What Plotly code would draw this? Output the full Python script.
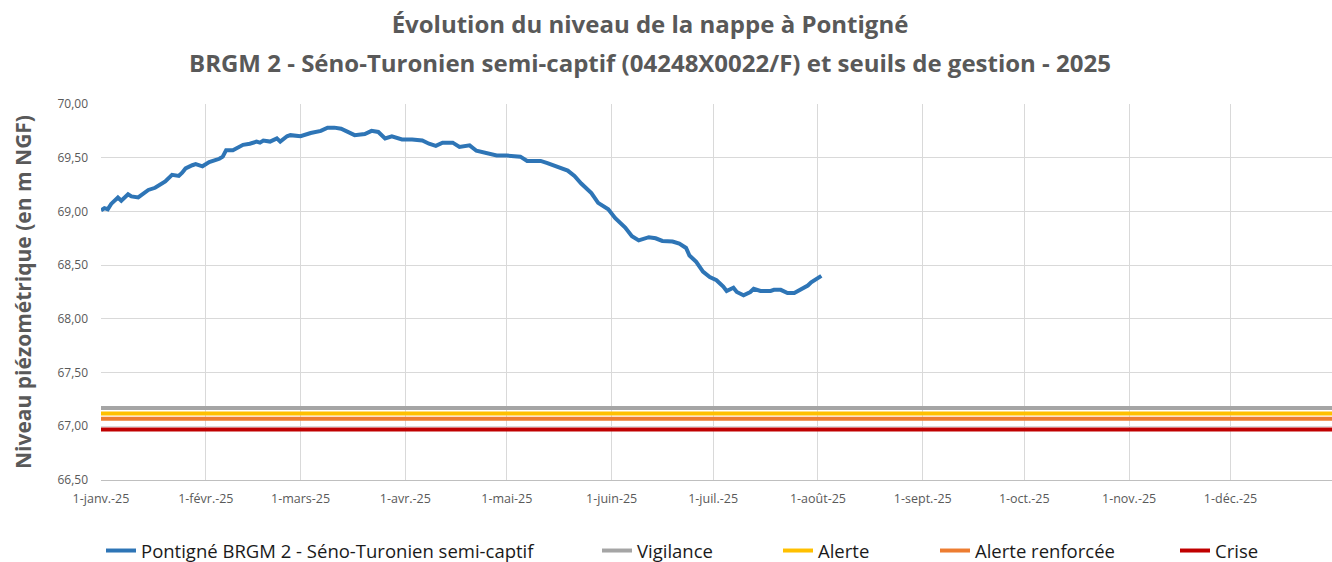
import plotly.graph_objects as go

# ---- data ----
dates = [
    "2025-01-01", "2025-01-02", "2025-01-03", "2025-01-04", "2025-01-06", "2025-01-07",
    "2025-01-09", "2025-01-10", "2025-01-12", "2025-01-14", "2025-01-15", "2025-01-17",
    "2025-01-19", "2025-01-20", "2025-01-22", "2025-01-24", "2025-01-25", "2025-01-26",
    "2025-01-28", "2025-01-29", "2025-01-31", "2025-02-02", "2025-02-04", "2025-02-05",
    "2025-02-06", "2025-02-07", "2025-02-09", "2025-02-11", "2025-02-12", "2025-02-14",
    "2025-02-16", "2025-02-17", "2025-02-18", "2025-02-20", "2025-02-22", "2025-02-23",
    "2025-02-25", "2025-02-26", "2025-03-01", "2025-03-04", "2025-03-07", "2025-03-09",
    "2025-03-11", "2025-03-13", "2025-03-15", "2025-03-17", "2025-03-20", "2025-03-22",
    "2025-03-24", "2025-03-26", "2025-03-28", "2025-03-31", "2025-04-03", "2025-04-06",
    "2025-04-08", "2025-04-10", "2025-04-12", "2025-04-15", "2025-04-17", "2025-04-20",
    "2025-04-22", "2025-04-25", "2025-04-28", "2025-05-01", "2025-05-05", "2025-05-07",
    "2025-05-11", "2025-05-13", "2025-05-16", "2025-05-19", "2025-05-21", "2025-05-23",
    "2025-05-26", "2025-05-28", "2025-05-31", "2025-06-02", "2025-06-05", "2025-06-07",
    "2025-06-09", "2025-06-12", "2025-06-14", "2025-06-16", "2025-06-19", "2025-06-21",
    "2025-06-23", "2025-06-24", "2025-06-26", "2025-06-28", "2025-06-30", "2025-07-02",
    "2025-07-04", "2025-07-05", "2025-07-07", "2025-07-08", "2025-07-10", "2025-07-12",
    "2025-07-13", "2025-07-15", "2025-07-18", "2025-07-19", "2025-07-21", "2025-07-23",
    "2025-07-25", "2025-07-27", "2025-07-29", "2025-07-30", "2025-08-01", "2025-08-02",
]
niveau = [
    69.01, 69.03, 69.02, 69.07, 69.13, 69.10,
    69.16, 69.14, 69.13, 69.17, 69.20, 69.22,
    69.26, 69.28, 69.34, 69.33, 69.36, 69.40,
    69.43, 69.44, 69.42, 69.46, 69.48, 69.49,
    69.51, 69.57, 69.57, 69.60, 69.62, 69.63,
    69.65, 69.64, 69.66, 69.65, 69.68, 69.65,
    69.70, 69.71, 69.70, 69.73, 69.75, 69.78,
    69.78, 69.77, 69.74, 69.71, 69.72, 69.75,
    69.74, 69.68, 69.70, 69.67, 69.67, 69.66,
    69.63, 69.61, 69.64, 69.64, 69.60, 69.615,
    69.565, 69.54, 69.52, 69.52, 69.51, 69.47,
    69.47, 69.45, 69.41, 69.38, 69.33, 69.26,
    69.17, 69.08, 69.02, 68.94, 68.85, 68.77,
    68.73, 68.76, 68.75, 68.725, 68.72, 68.70,
    68.66, 68.59, 68.53, 68.44, 68.39, 68.36,
    68.30, 68.26, 68.29, 68.25, 68.22, 68.25,
    68.28, 68.26, 68.26, 68.27, 68.27, 68.24,
    68.24, 68.27, 68.31, 68.34, 68.38, 68.40,
]

seuil_dates = ["2025-01-01", "2025-12-31"]
seuil_noms = ["Vigilance", "Alerte", "Alerte renforcée", "Crise"]
seuil_valeurs = [67.17, 67.12, 67.07, 66.97]
seuil_couleurs = ["#A5A5A5", "#FFC000", "#ED7D31", "#C00000"]

serie_nom = "Pontigné BRGM 2 - Séno-Turonien semi-captif"
serie_couleur = "#2E75B6"

tick_dates = ["2025-01-01", "2025-02-01", "2025-03-01", "2025-04-01", "2025-05-01",
              "2025-06-01", "2025-07-01", "2025-08-01", "2025-09-01", "2025-10-01",
              "2025-11-01", "2025-12-01"]
tick_labels = ["1-janv.-25", "1-févr.-25", "1-mars-25", "1-avr.-25", "1-mai-25",
               "1-juin-25", "1-juil.-25", "1-août-25", "1-sept.-25", "1-oct.-25",
               "1-nov.-25", "1-déc.-25"]
y_ticks = [66.5, 67.0, 67.5, 68.0, 68.5, 69.0, 69.5, 70.0]

title1 = "Évolution du niveau de la nappe à Pontigné"
title2 = "BRGM 2 - Séno-Turonien semi-captif (04248X0022/F) et seuils de gestion - 2025"

FONT = "Open Sans"
GREY = "#595959"

fig = go.Figure()
fig.add_trace(go.Scatter(x=dates, y=niveau, mode="lines", name=serie_nom, showlegend=True,
                         line=dict(color=serie_couleur, width=4), legend="legend"))
legend_ids = ["legend2", "legend3", "legend4", "legend5"]
for nom, val, col, lg in zip(seuil_noms, seuil_valeurs, seuil_couleurs, legend_ids):
    fig.add_trace(go.Scatter(x=seuil_dates, y=[val, val], mode="lines", name=nom,
                             showlegend=True, line=dict(color=col, width=4), legend=lg))

leg_text_x = [141, 637, 818, 975, 1215]
leg_common = dict(orientation="h", xref="container", yref="container", yanchor="top",
                  xanchor="left", y=(562 - 532) / 562,
                  font=dict(family=FONT, size=18.5, color="#1a1a1a"),
                  bgcolor="rgba(0,0,0,0)", itemwidth=30, tracegroupgap=0)
layout_legends = {}
for i, tx in enumerate(leg_text_x):
    key = "legend" if i == 0 else f"legend{i+1}"
    layout_legends[key] = dict(leg_common, x=(tx - 40) / 1332)

fig.update_layout(
    width=1332, height=562,
    margin=dict(l=101, r=0, t=104, b=82, autoexpand=False),
    paper_bgcolor="white", plot_bgcolor="white",
    separators=", ",
    showlegend=True,
    font=dict(family=FONT, color=GREY),
    title=dict(text="<b>" + title1 + "</b>", x=650 / 1332, xanchor="center", xref="container",
               y=1 - 25 / 562, yanchor="middle", yref="container",
               font=dict(family=FONT, size=24, color=GREY)),
    annotations=[dict(text="<b>" + title2 + "</b>", xref="paper", yref="paper",
                      x=(650 - 101) / 1231, y=(480 - 62) / 376, yanchor="middle",
                      xanchor="center", showarrow=False,
                      font=dict(family=FONT, size=24, color=GREY))],
    xaxis=dict(type="date", range=["2025-01-01", "2025-12-31"], automargin=False,
               tickvals=tick_dates, ticktext=tick_labels, ticklabelstandoff=7,
               showgrid=True, gridcolor="#D9D9D9", gridwidth=1,
               showline=True, linecolor="#BFBFBF", linewidth=1,
               ticks="", tickfont=dict(family=FONT, size=12.5, color=GREY), zeroline=False),
    yaxis=dict(range=[66.5, 70.0], tickvals=y_ticks, tickformat=".2f", automargin=False,
               ticklabelstandoff=12,
               showgrid=True, gridcolor="#D9D9D9", gridwidth=1,
               showline=False, ticks="", zeroline=False,
               tickfont=dict(family=FONT, size=12, color=GREY),
               title=dict(text="<b>Niveau piézométrique (en m NGF)</b>", standoff=20,
                          font=dict(family=FONT, size=21, color=GREY))),
    **layout_legends,
)

fig.write_html("out.html", config={"displayModeBar": False},
               post_script="document.body.style.margin='0';")
